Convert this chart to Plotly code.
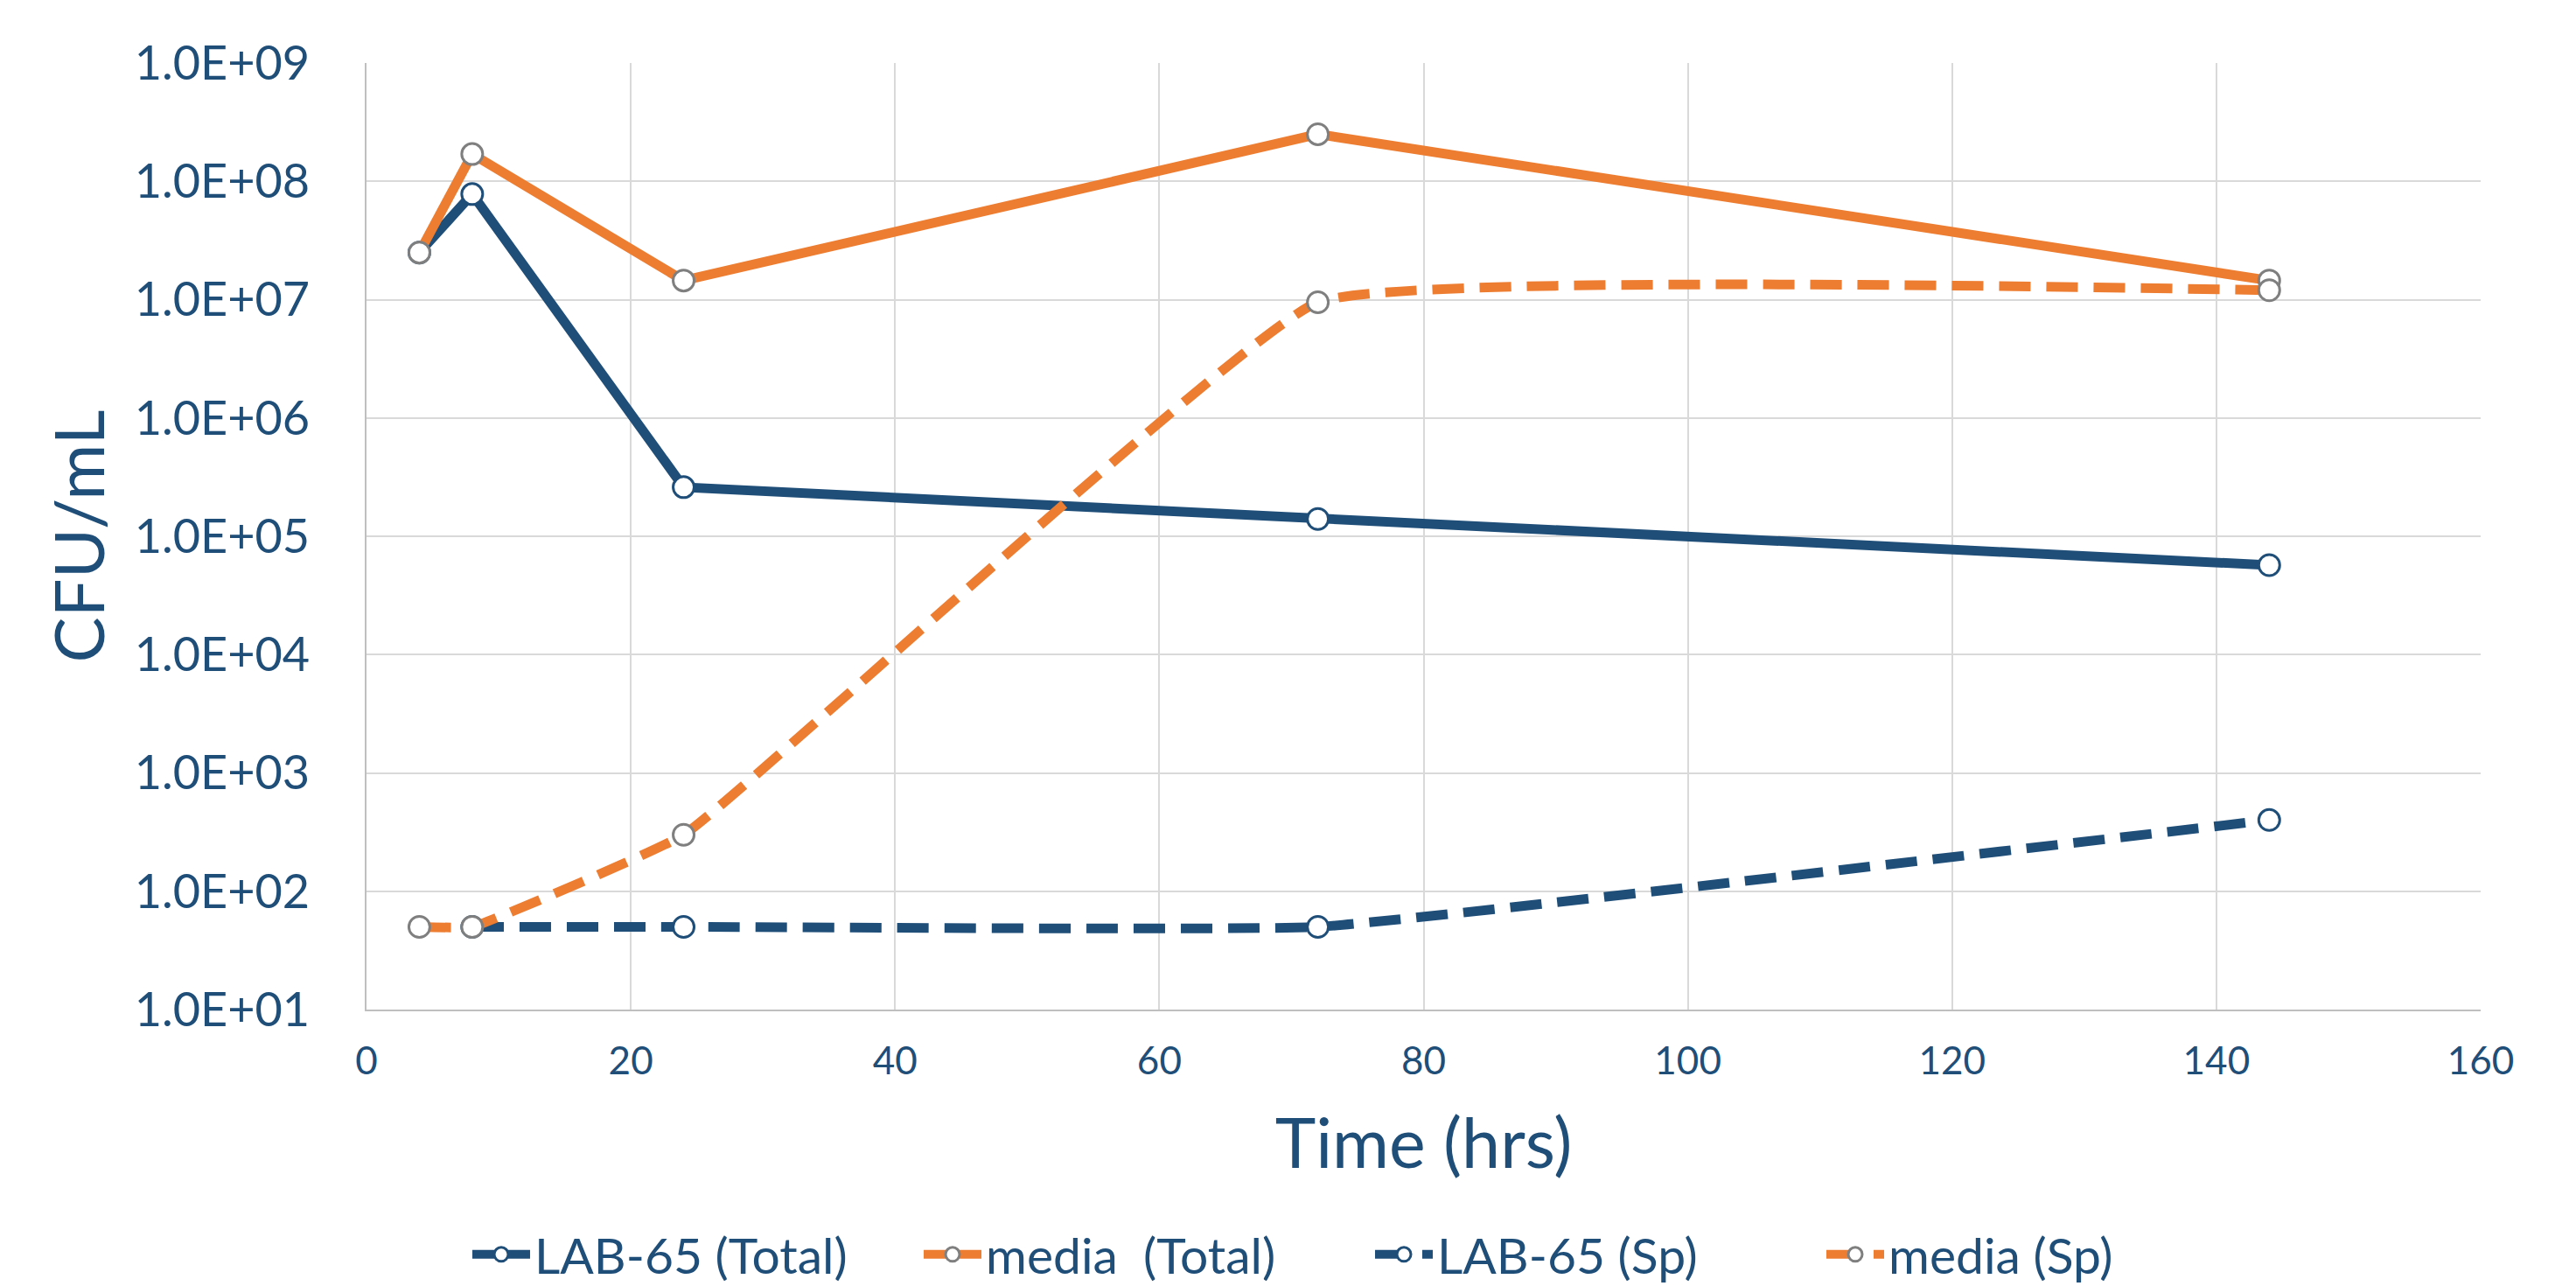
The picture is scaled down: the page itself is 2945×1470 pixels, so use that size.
import plotly.graph_objects as go

# ---- data ----
time_lab_total = [4, 8, 24, 72, 144]
lab_total = [2.5e7, 7.8e7, 2.6e5, 1.4e5, 5.7e4]

time_media_total = [4, 8, 24, 72, 144]
media_total = [2.5e7, 1.7e8, 1.45e7, 2.5e8, 1.45e7]

time_lab_sp = [8, 24, 72, 144]
lab_sp = [50, 50, 50, 400]

time_media_sp = [4, 8, 24, 72, 144]
media_sp = [50, 50, 300, 9.5e6, 1.2e7]

series_names = ["LAB-65 (Total)", "media  (Total)", "LAB-65 (Sp)", "media (Sp)"]

y_tickvals = [1e1, 1e2, 1e3, 1e4, 1e5, 1e6, 1e7, 1e8, 1e9]
y_ticktext = ["1.0E+01", "1.0E+02", "1.0E+03", "1.0E+04", "1.0E+05",
              "1.0E+06", "1.0E+07", "1.0E+08", "1.0E+09"]
x_tickvals = [0, 20, 40, 60, 80, 100, 120, 140, 160]

# ---- styles ----
BLUE = "#1F4E79"
ORANGE = "#ED7D31"
GREY = "#7F7F7F"
TEXT = "#1F4E79"
FONT = "Lato, 'Open Sans', sans-serif"
LW = 11
DASH = "36px,18px"
MS = 24
SMOOTH = 0.28


def marker(edge):
    return dict(symbol="circle", size=MS, color="white", line=dict(color=edge, width=3))


fig = go.Figure()

fig.add_trace(go.Scatter(
    x=time_lab_total, y=lab_total, name=series_names[0], mode="lines+markers",
    line=dict(color=BLUE, width=LW), marker=marker(BLUE),
))
fig.add_trace(go.Scatter(
    x=time_media_total, y=media_total, name=series_names[1], mode="lines+markers",
    line=dict(color=ORANGE, width=LW), marker=marker(GREY),
))
fig.add_trace(go.Scatter(
    x=time_lab_sp, y=lab_sp, name=series_names[2], mode="lines+markers",
    line=dict(color=BLUE, width=LW, dash=DASH, shape="spline", smoothing=SMOOTH),
    marker=marker(BLUE),
))
fig.add_trace(go.Scatter(
    x=time_media_sp, y=media_sp, name=series_names[3], mode="lines+markers",
    line=dict(color=ORANGE, width=LW, dash=DASH, shape="spline", smoothing=SMOOTH),
    marker=marker(GREY),
))

fig.update_layout(
    width=2945, height=1470,
    paper_bgcolor="white", plot_bgcolor="white",
    margin=dict(l=411, r=117, t=64, b=324, autoexpand=False),
    font=dict(family=FONT, color=TEXT, size=44),
    showlegend=True,
    legend=dict(
        orientation="h", x=0.048, xanchor="left", y=-0.259, yanchor="middle",
        font=dict(size=57, color=TEXT, family=FONT),
        itemwidth=66, entrywidth=435, entrywidthmode="pixels",
    ),
)

fig.update_xaxes(
    range=[0, 160], tickvals=x_tickvals, ticks="",
    showgrid=True, gridcolor="#D9D9D9", gridwidth=2,
    showline=True, linecolor="#BFBFBF", linewidth=2,
    zeroline=False,
    tickfont=dict(size=44, color=TEXT, family=FONT),
    ticklabelstandoff=19,
    title=dict(text="Time (hrs)", font=dict(size=79, color=TEXT, family=FONT), standoff=44),
)
fig.update_yaxes(
    type="log", range=[1, 9], tickvals=y_tickvals, ticktext=y_ticktext, ticks="",
    showgrid=True, gridcolor="#D9D9D9", gridwidth=2,
    showline=True, linecolor="#BFBFBF", linewidth=2,
    zeroline=False,
    tickfont=dict(size=54, color=TEXT, family=FONT),
    ticklabelstandoff=52,
    title=dict(text="CFU/mL", font=dict(size=78, color=TEXT, family=FONT), standoff=8),
)

fig.write_html("out.html")
